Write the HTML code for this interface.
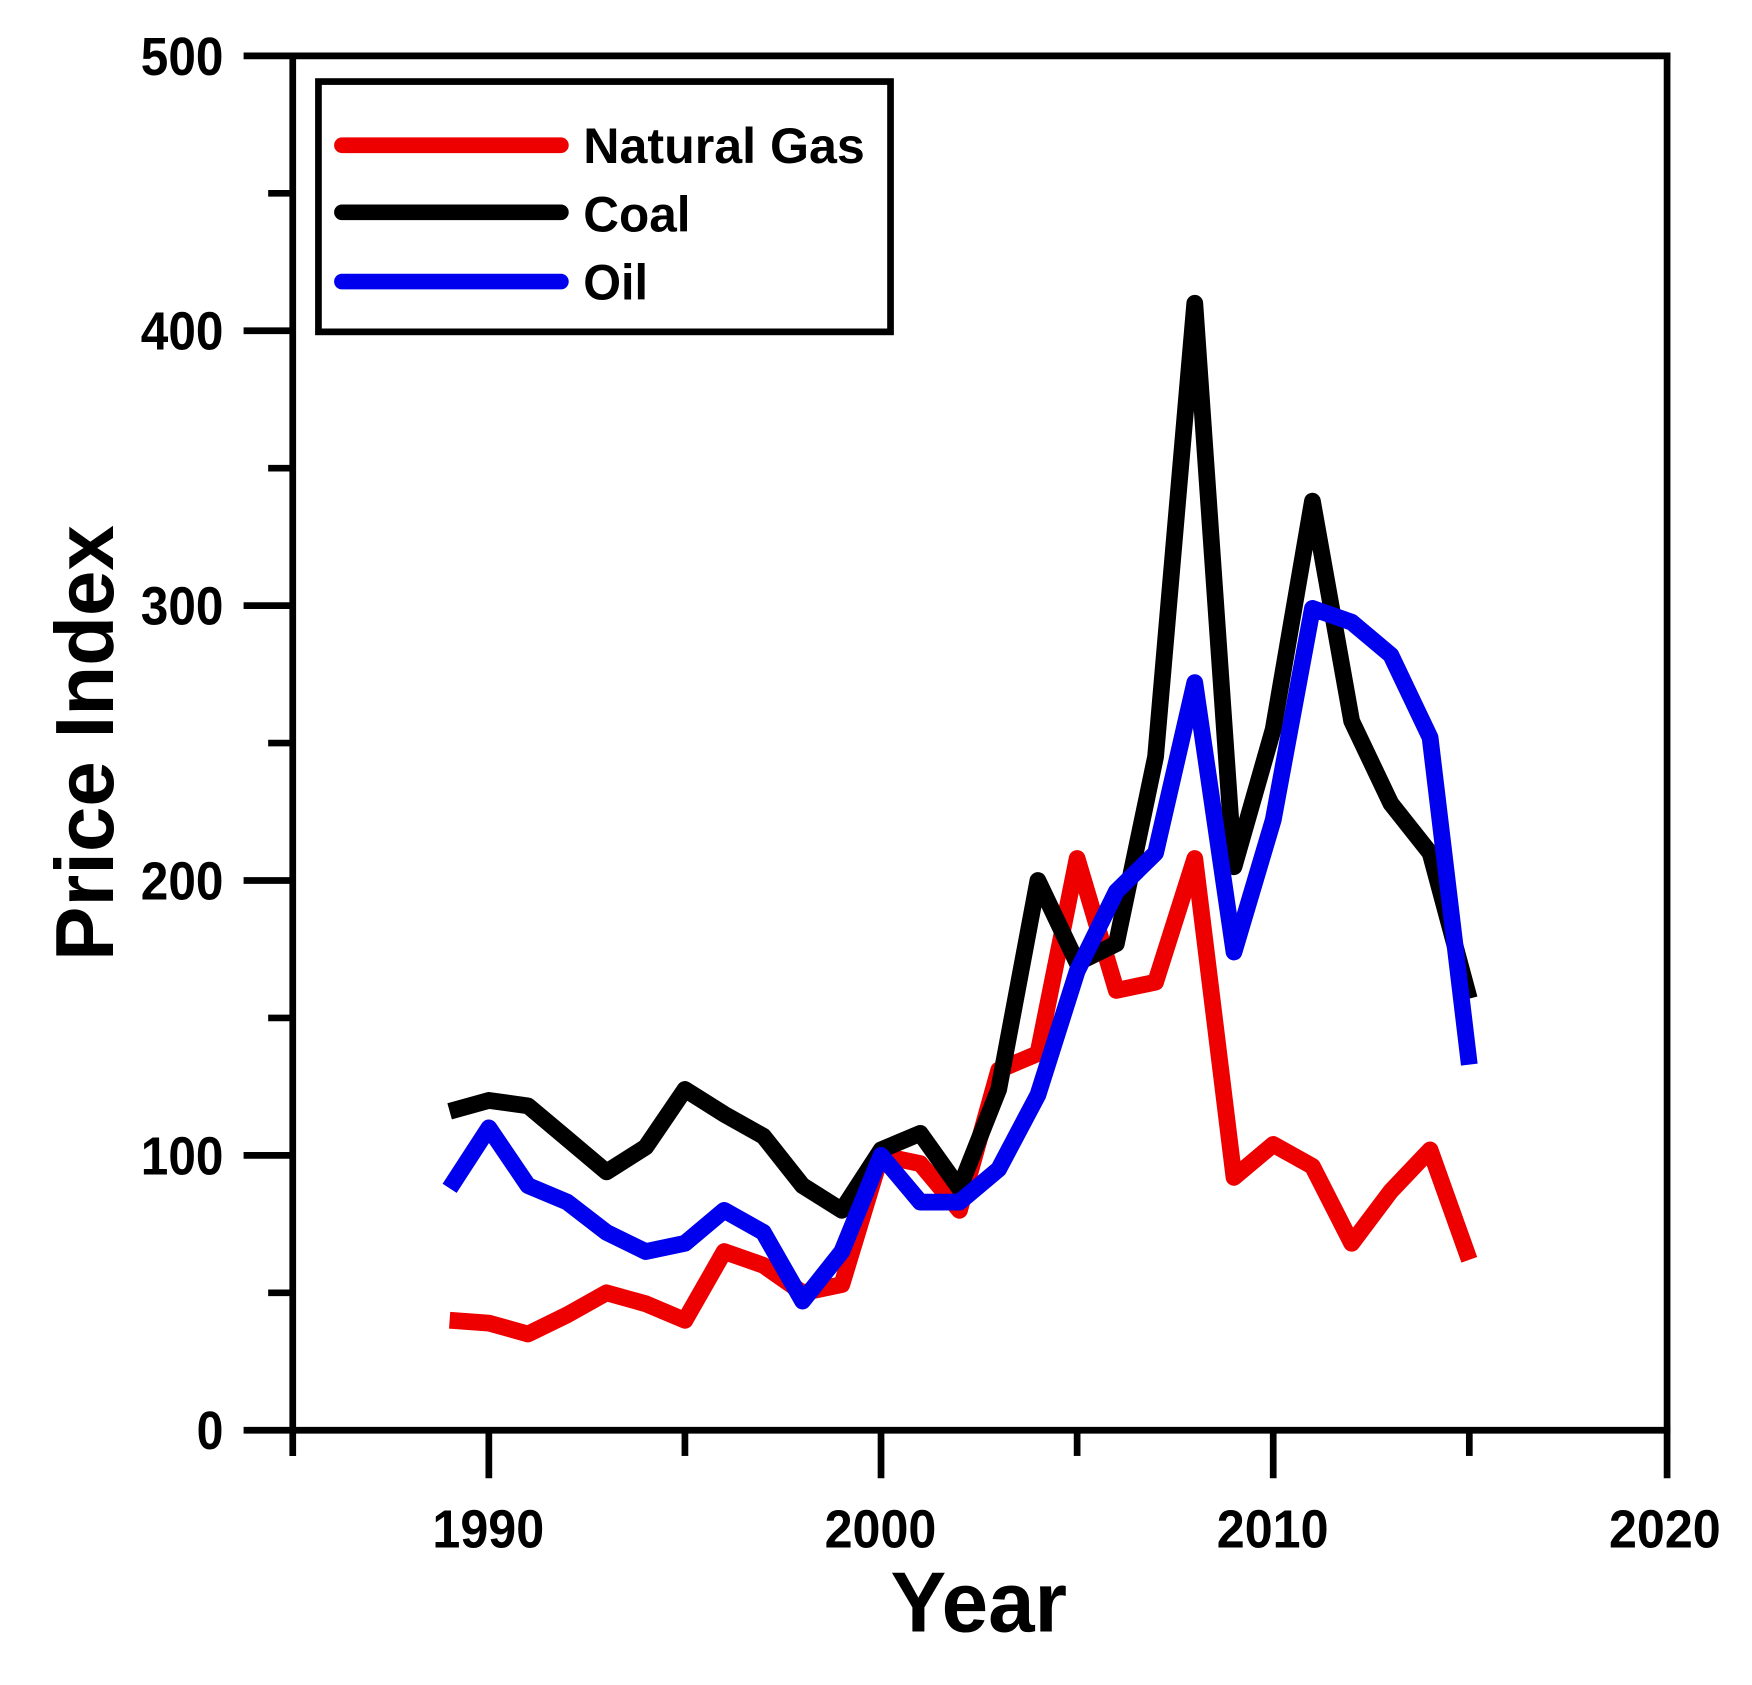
<!DOCTYPE html>
<html><head><meta charset="utf-8"><style>
html,body{margin:0;padding:0;background:#fff;}
svg{display:block;}
text{font-family:"Liberation Sans",Arial,sans-serif;font-weight:bold;fill:#000;}
</style></head><body>
<svg width="1752" height="1685" viewBox="0 0 1568 1508" preserveAspectRatio="none" xmlns="http://www.w3.org/2000/svg">
<rect width="1568" height="1508" fill="#fff"/>
<g stroke="#000" stroke-width="6" fill="none">
<line x1="218" y1="50" x2="1495" y2="50"/>
<line x1="218" y1="1280" x2="1495" y2="1280"/>
<line x1="262" y1="47" x2="262" y2="1303"/>
<line x1="1492" y1="47" x2="1492" y2="1323"/>
<line x1="218" y1="296" x2="262" y2="296"/>
<line x1="218" y1="542" x2="262" y2="542"/>
<line x1="218" y1="788" x2="262" y2="788"/>
<line x1="218" y1="1034" x2="262" y2="1034"/>
<line x1="240" y1="173" x2="262" y2="173"/>
<line x1="240" y1="419" x2="262" y2="419"/>
<line x1="240" y1="665" x2="262" y2="665"/>
<line x1="240" y1="911" x2="262" y2="911"/>
<line x1="240" y1="1157" x2="262" y2="1157"/>
<line x1="437.5" y1="1280" x2="437.5" y2="1323"/>
<line x1="788.5" y1="1280" x2="788.5" y2="1323"/>
<line x1="1139.5" y1="1280" x2="1139.5" y2="1323"/>
<line x1="613" y1="1280" x2="613" y2="1303"/>
<line x1="964" y1="1280" x2="964" y2="1303"/>
<line x1="1315" y1="1280" x2="1315" y2="1303"/>
</g>
<g font-size="48">
<text x="126" y="67" textLength="74" lengthAdjust="spacingAndGlyphs">500</text>
<text x="126" y="313" textLength="74" lengthAdjust="spacingAndGlyphs">400</text>
<text x="126" y="559" textLength="74" lengthAdjust="spacingAndGlyphs">300</text>
<text x="126" y="805" textLength="74" lengthAdjust="spacingAndGlyphs">200</text>
<text x="126" y="1051" textLength="74" lengthAdjust="spacingAndGlyphs">100</text>
<text x="176" y="1297" textLength="24" lengthAdjust="spacingAndGlyphs">0</text>
</g>
<g font-size="48">
<text x="387" y="1385" textLength="100" lengthAdjust="spacingAndGlyphs">1990</text>
<text x="738" y="1385" textLength="100" lengthAdjust="spacingAndGlyphs">2000</text>
<text x="1089" y="1385" textLength="100" lengthAdjust="spacingAndGlyphs">2010</text>
<text x="1440" y="1385" textLength="100" lengthAdjust="spacingAndGlyphs">2020</text>
</g>
<text x="797" y="1460" font-size="76" textLength="158" lengthAdjust="spacingAndGlyphs">Year</text>
<text transform="translate(101,860) rotate(-90)" font-size="74" textLength="390" lengthAdjust="spacingAndGlyphs">Price Index</text>
<g fill="none" stroke-width="15" stroke-linejoin="round">
<polyline stroke="#ee0000" points="402.4,1181.6 437.5,1184.1 472.6,1193.9 507.7,1176.7 542.8,1157 577.9,1166.8 613,1181.6 648.1,1120.1 683.2,1132.4 718.3,1157 753.4,1149.6 788.5,1034 823.6,1041.4 858.7,1083.2 893.8,957.7 928.9,942.9 964,768.3 999.1,886.4 1034.2,879 1069.3,768.3 1104.4,1053.7 1139.5,1024.2 1174.6,1043.8 1209.7,1112.7 1244.8,1066 1279.9,1029.1 1315,1127.5"/>
<polyline stroke="#000" points="402.4,994.6 437.5,984.8 472.6,989.7 507.7,1019.2 542.8,1048.8 577.9,1026.6 613,975 648.1,997.1 683.2,1016.8 718.3,1061.1 753.4,1083.2 788.5,1029.1 823.6,1014.3 858.7,1063.5 893.8,975 928.9,788 964,861.8 999.1,844.6 1034.2,677.3 1069.3,271.4 1104.4,775.7 1139.5,652.7 1174.6,448.5 1209.7,645.3 1244.8,719.1 1279.9,763.4 1315,893.8"/>
<polyline stroke="#0000ee" points="402.4,1063.5 437.5,1009.4 472.6,1061.1 507.7,1075.8 542.8,1102.9 577.9,1120.1 613,1112.7 648.1,1083.2 683.2,1102.9 718.3,1164.4 753.4,1120.1 788.5,1034 823.6,1075.8 858.7,1075.8 893.8,1046.3 928.9,979.9 964,869.2 999.1,797.8 1034.2,763.4 1069.3,610.9 1104.4,852 1139.5,733.9 1174.6,544.5 1209.7,556.8 1244.8,586.3 1279.9,660.1 1315,952.8"/>
</g>
<rect x="285" y="73" width="512" height="224" fill="none" stroke="#000" stroke-width="6"/>
<g stroke-width="14" stroke-linecap="round">
<line x1="306" y1="130" x2="502" y2="130" stroke="#ee0000"/>
<line x1="306" y1="190" x2="502" y2="190" stroke="#000"/>
<line x1="306" y1="252" x2="502" y2="252" stroke="#0000ee"/>
</g>
<g font-size="45">
<text x="522" y="146" textLength="252" lengthAdjust="spacingAndGlyphs">Natural Gas</text>
<text x="522" y="207" textLength="96" lengthAdjust="spacingAndGlyphs">Coal</text>
<text x="522" y="268" textLength="58" lengthAdjust="spacingAndGlyphs">Oil</text>
</g>
</svg>
</body></html>
